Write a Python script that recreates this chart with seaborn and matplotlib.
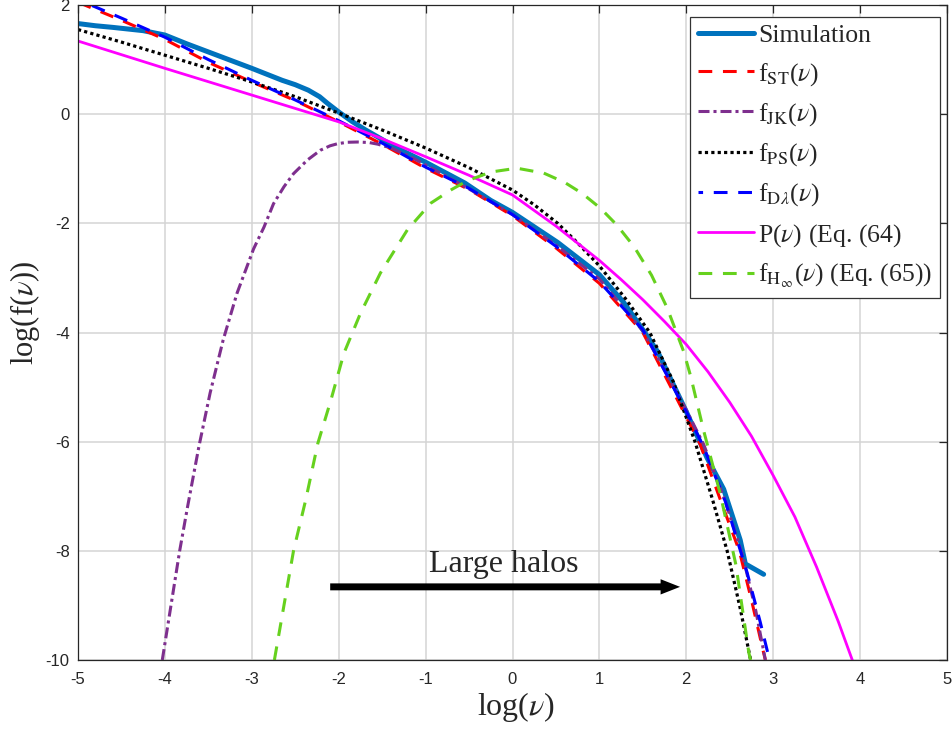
import matplotlib
matplotlib.use("Agg")
import matplotlib.pyplot as plt
import seaborn as sns
from matplotlib.patches import FancyArrowPatch

# ---- curves: log(nu) vs log(f(nu)) ----
sim_x = [-5.00, -4.80, -4.60, -4.25, -4.00, -3.75, -3.40, -3.00, -2.65, -2.50, -2.35,
         -2.22, -2.13, -2.00, -1.85, -1.70, -1.33, -1.00, -0.55, -0.25, 0.00, 0.52, 1.00,
         1.28, 1.50, 1.67, 2.00, 2.24, 2.43, 2.62, 2.68, 2.89]
sim_y = [1.66, 1.62, 1.59, 1.53, 1.45, 1.29, 1.08, 0.84, 0.62, 0.54, 0.44,
         0.32, 0.20, 0.04, -0.13, -0.28, -0.62, -0.88, -1.26, -1.58, -1.80, -2.35, -2.94,
         -3.45, -3.95, -4.35, -5.45, -6.30, -6.87, -7.80, -8.24, -8.43]

st_x = [-5.00, -4.50, -4.00, -3.50, -3.00, -2.50, -2.00, -1.50, -1.00, -0.50, 0.00,
        0.50, 1.00, 1.50, 2.00, 2.16, 2.40, 2.61, 2.75, 2.89, 2.91]
st_y = [2.05, 1.72, 1.37, 0.95, 0.59, 0.25, -0.14, -0.55, -0.99, -1.38, -1.86,
        -2.45, -3.10, -4.00, -5.55, -6.05, -7.10, -8.00, -8.90, -9.87, -10.00]

jk_x = [-4.03, -3.83, -3.74, -3.61, -3.48, -3.33, -3.17, -2.98, -2.86, -2.75, -2.63,
        -2.52, -2.36, -2.21, -2.10, -2.01, -1.90, -1.78, -1.65, -1.55, -1.40, -1.20,
        -1.00, -0.50, 0.00, 0.50, 1.00, 1.50, 2.00, 2.20, 2.45, 2.65, 2.80, 2.91]
jk_y = [-10.00, -8.00, -7.20, -6.10, -5.11, -4.14, -3.28, -2.47, -2.07, -1.64, -1.33,
        -1.09, -0.84, -0.66, -0.58, -0.54, -0.515, -0.51, -0.52, -0.55, -0.62, -0.76,
        -0.93, -1.37, -1.84, -2.40, -3.02, -3.97, -5.42, -6.05, -7.10, -8.10, -9.10, -10.00]

ps_x = [-5.00, -4.50, -4.00, -3.50, -3.00, -2.50, -2.00, -1.50, -1.00, -0.50, 0.00,
        0.25, 0.52, 0.75, 1.00, 1.30, 1.58, 1.85, 2.10, 2.30, 2.47, 2.62, 2.74]
ps_y = [1.55, 1.32, 1.08, 0.84, 0.59, 0.32, 0.02, -0.29, -0.62, -0.98, -1.39,
        -1.66, -2.00, -2.36, -2.78, -3.38, -4.00, -4.90, -6.00, -7.05, -8.00, -9.05, -10.00]

dl_x = [-5.00, -4.50, -4.00, -3.50, -3.00, -2.50, -2.00, -1.50, -1.00, -0.50, 0.00,
        0.50, 1.00, 1.50, 2.00, 2.20, 2.45, 2.70, 2.85, 2.95, 2.96]
dl_y = [2.10, 1.76, 1.41, 1.00, 0.62, 0.26, -0.12, -0.53, -0.97, -1.36, -1.84,
        -2.42, -3.07, -3.95, -5.45, -6.10, -7.10, -8.40, -9.30, -9.95, -10.00]

p_x = [-5.00, -4.00, -3.00, -2.00, -1.50, -1.00, -0.50, 0.00, 0.50, 1.00, 1.25,
       1.50, 1.75, 2.00, 2.25, 2.50, 2.75, 3.00, 3.25, 3.50, 3.75, 3.91]
p_y = [1.34, 0.84, 0.35, -0.14, -0.45, -0.78, -1.12, -1.48, -2.05, -2.68, -3.03,
       -3.40, -3.80, -4.22, -4.72, -5.28, -5.90, -6.62, -7.38, -8.30, -9.30, -10.00]

h_x = [-2.74, -2.52, -2.38, -2.24, -2.09, -1.94, -1.75, -1.52, -1.21, -0.94, -0.70,
       -0.52, -0.25, 0.05, 0.36, 0.60, 0.80, 1.01, 1.20, 1.40, 1.60, 1.78, 1.97, 2.05,
       2.20, 2.39, 2.57, 2.72, 2.74]
h_y = [-10.00, -8.00, -7.07, -6.03, -5.24, -4.38, -3.65, -2.91, -2.12, -1.63, -1.38,
       -1.22, -1.06, -0.99, -1.08, -1.25, -1.45, -1.72, -2.03, -2.43, -2.95, -3.55, -4.35,
       -4.80, -5.80, -6.95, -8.25, -9.87, -10.00]

labels = ["Simulation",
          r"f$_{\mathrm{ST}}$($\nu$)",
          r"f$_{\mathrm{JK}}$($\nu$)",
          r"f$_{\mathrm{PS}}$($\nu$)",
          r"f$_{\mathrm{D}\lambda}$($\nu$)",
          r"P($\nu$) (Eq. (64)",
          r"f$_{\mathrm{H}_\infty}$($\nu$) (Eq. (65))"]

x_ticks = [-5, -4, -3, -2, -1, 0, 1, 2, 3, 4, 5]
y_ticks = [-10, -8, -6, -4, -2, 0, 2]

sns.set_theme(style="whitegrid")
plt.rcParams.update({
    "font.family": ["Liberation Serif", "DejaVu Serif"],
    "mathtext.fontset": "stix",
    "axes.unicode_minus": False,
    "xtick.direction": "in",
    "ytick.direction": "in",
    "xtick.top": True,
    "ytick.right": True,
})

fig = plt.figure(figsize=(9.52, 7.32), dpi=100)
ax = fig.add_axes([78 / 952, 1 - 660 / 732, 869 / 952, 655 / 732])

styles = [
    (sim_x, sim_y, "#0072BD", "-", 3.6),
    (st_x, st_y, "#FF0000", (0, (4.5, 3.5)), 2.2),
    (jk_x, jk_y, "#7E2F8E", (0, (3.6, 1.3, 1.0, 1.3)), 2.2),
    (ps_x, ps_y, "#000000", (0, (1, 1)), 2.3),
    (dl_x, dl_y, "#0000FF", (3, (4.5, 3.5)), 2.2),
    (p_x, p_y, "#FF00FF", "-", 2.0),
    (h_x, h_y, "#66D11E", (0, (4.5, 3.5)), 2.2),
]
for (xs, ys, col, ls, lw), lab in zip(styles, labels):
    sns.lineplot(x=xs, y=ys, ax=ax, color=col, linestyle=ls, linewidth=lw,
                 label=lab, sort=False, estimator=None)

ax.set_xlim(-5, 5)
ax.set_ylim(-10, 2)
ax.set_xticks(x_ticks)
ax.set_yticks(y_ticks)
ax.set_xticklabels([str(v) for v in x_ticks], family="Liberation Sans", fontsize=12)
ax.set_yticklabels([str(v) for v in y_ticks], family="Liberation Sans", fontsize=12)
ax.tick_params(axis="both", which="major", length=6, width=0.9, color="#262626",
               labelcolor="#262626")
ax.tick_params(axis="x", pad=9)
ax.tick_params(axis="y", pad=6)

ax.grid(True, color="#d4d4d4", linewidth=1.1)
ax.set_facecolor("white")
for sp in ax.spines.values():
    sp.set_visible(True)
    sp.set_color("#262626")
    sp.set_linewidth(0.9)

ax.set_xlabel(r"log($\nu$)", fontsize=23)
ax.set_ylabel(r"log(f($\nu$))", fontsize=22)
ax.xaxis.set_label_coords(0.504, -0.046)
ax.yaxis.set_label_coords(-0.042, 0.53)

# arrow pointing toward large halos
arrow = FancyArrowPatch((-2.13, -8.66), (1.96, -8.66),
                        arrowstyle="simple,head_length=1.4,head_width=1.1,tail_width=0.5",
                        mutation_scale=10, color="black", lw=0, zorder=5)
ax.add_patch(arrow)
ax.text(-0.1, -8.39, "Large halos", fontsize=23, ha="center", va="baseline", zorder=5)

leg = ax.legend(loc="upper right", bbox_to_anchor=(0.992, 0.982), borderaxespad=0,
                fontsize=18.5, handlelength=2.2, handletextpad=0.15, labelspacing=0.52,
                borderpad=0.3, fancybox=False, framealpha=1, edgecolor="#333333")
leg.get_frame().set_linewidth(0.9)

fig.savefig("out.png", dpi=100, facecolor="white")
